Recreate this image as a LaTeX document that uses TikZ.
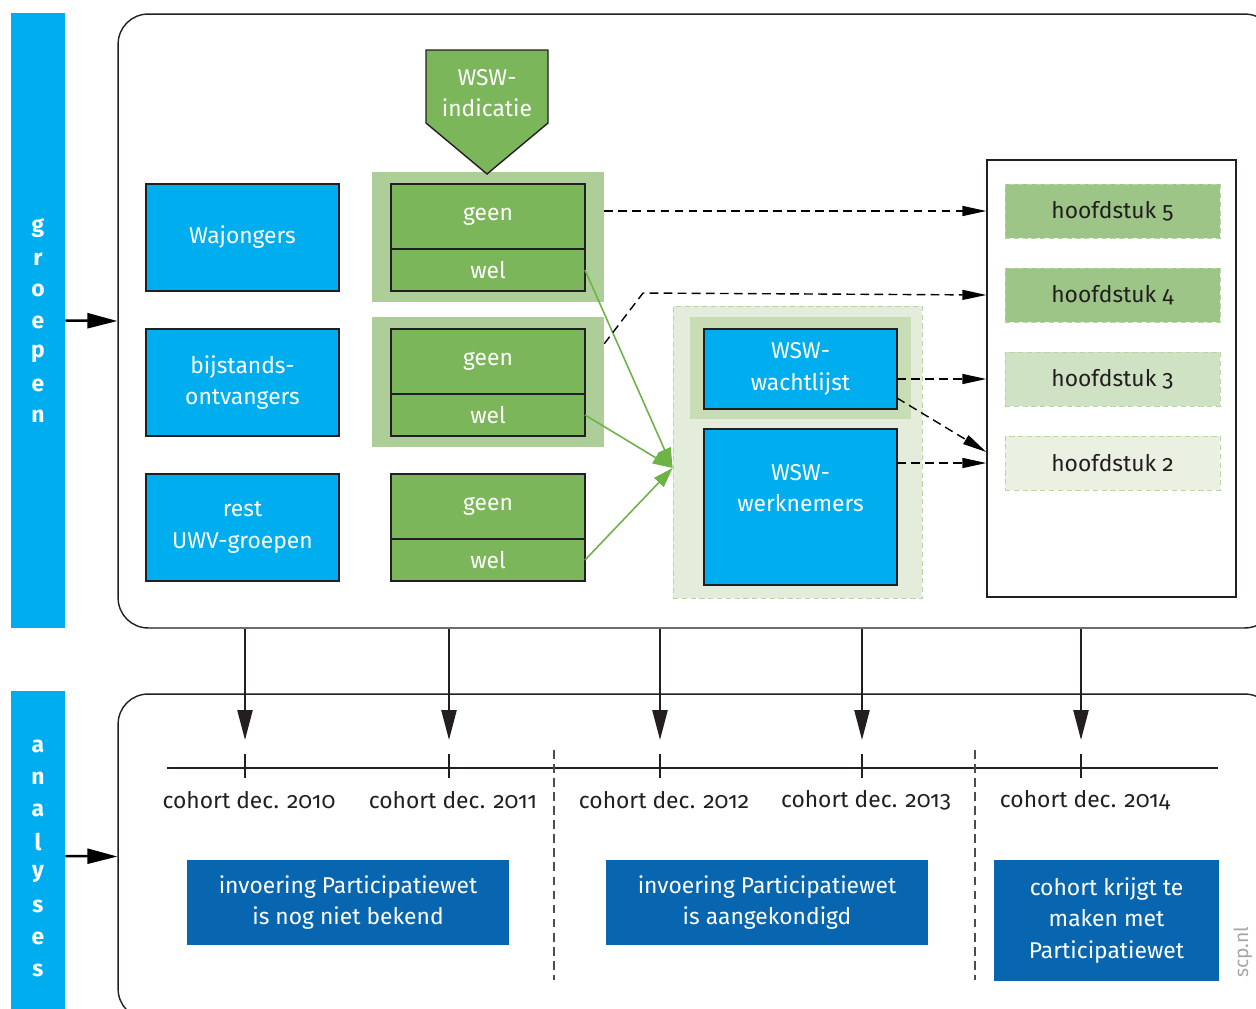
\documentclass[tikz,border=0pt]{standalone}
\usepackage{fontspec}
\setmainfont{Fira Sans}[Numbers=OldStyle]
\usepackage{tikz}
\usetikzlibrary{positioning,arrows.meta,calc}

\definecolor{scpcyan}{HTML}{00AEEF}
\definecolor{scpblue}{HTML}{0866B0}
\definecolor{scpgreen}{HTML}{7CB65A}
\definecolor{backgreen}{HTML}{ADCE98}
\definecolor{areagreen}{HTML}{E4EDDB}
\definecolor{waitgreen}{HTML}{C8DCB6}
\definecolor{dashgreen}{HTML}{B6D7A2}
\definecolor{chfive}{HTML}{9DC588}
\definecolor{chthree}{HTML}{CFE2C3}
\definecolor{chtwo}{HTML}{EAF1E3}
\definecolor{arrowgreen}{HTML}{6DB345}
\definecolor{inkdark}{HTML}{231F20}

\tikzset{
  txt/.style={font=\fontsize{13}{18}\selectfont, align=center},
  bluebox/.style={txt, draw=inkdark, line width=0.8pt, fill=scpcyan, text=white,
    inner sep=0pt, outer sep=0pt, minimum width=3.86cm},
  geenbox/.style={txt, draw=inkdark, line width=0.8pt, fill=scpgreen, text=white,
    inner sep=0pt, outer sep=0pt, minimum width=3.88cm, minimum height=1.3cm},
  welbox/.style={geenbox, minimum height=0.84cm},
  backbox/.style={fill=backgreen, inner sep=0pt, minimum width=4.64cm, minimum height=2.6cm},
  chapbox/.style={txt, text=inkdark, draw=dashgreen, dashed, dash pattern=on 3pt off 2pt,
    inner sep=0pt, minimum width=4.3cm, minimum height=1.08cm},
  sidebar/.style={fill=scpcyan, inner sep=0pt, minimum width=1.08cm},
  vlet/.style={font=\fontsize{13}{13}\selectfont\bfseries, text=white},
  roundbox/.style={draw=inkdark, line width=0.8pt, rounded corners=0.6cm, inner sep=0pt},
  darkbox/.style={txt, fill=scpblue, text=white, inner sep=0pt},
  bigarrow/.style={line width=1.4pt, -{Triangle[length=0.6cm, width=0.3cm]}},
  dasharrow/.style={line width=0.8pt, dash pattern=on 5pt off 3pt,
    -{Triangle[length=0.48cm, width=0.2cm]}},
  greenarrow/.style={arrowgreen, line width=0.9pt, -{Triangle[length=0.4cm, width=0.26cm]}},
}

\begin{document}
\begin{tikzpicture}[x=0.02cm, y=-0.02cm]

    \clip (0,0) rectangle (1256,1008);
          % page frame in pixel units

    % side bars
    \node[sidebar, minimum height=12.3cm] (groep) at (38,320.5) {};
    \node[sidebar, minimum height=6.6cm] (anal) at (38,856) {};
    \foreach \l [count=\i] in {g,r,o,e,p,e,n}{%
      \node[vlet] at (38,196+31.5*\i) {\l};
    }
    \foreach \l [count=\i] in {a,n,a,l,y,s,e,s}{%
      \node[vlet] at (38,714+32*\i) {\l};
    }

    % the two frames
    \node[roundbox, minimum width=23.14cm, minimum height=12.28cm] (upper) at (696.5,321) {};
    \node[roundbox, minimum width=23.14cm, minimum height=6.5cm] (lower) at (696.5,856.5) {};
    \draw[bigarrow] (groep.east) -- (upper.west);
    \draw[bigarrow] (anal.east) -- (lower.west);

    % groups
    \node[bluebox, minimum height=2.14cm] (wajong) at (242.5,237.5) {Wajongers};
    \node[bluebox, minimum height=2.14cm] (bijst) at (242.5,382.5) {bijstands-\\ontvangers};
    \node[bluebox, minimum height=2.14cm] (rest) at (242.5,527.5) {rest\\UWV-groepen};

    \node[backbox] (back1) at (488,237) {};
    \node[backbox] (back2) at (488,382) {};
    \node[geenbox] (geen1) at (488,216.5) {geen};
    \node[welbox, below=0pt of geen1] (wel1) {wel};
    \node[geenbox] (geen2) at (488,361.5) {geen};
    \node[welbox, below=0pt of geen2] (wel2) {wel};
    \node[geenbox] (geen3) at (488,506.5) {geen};
    \node[welbox, below=0pt of geen3] (wel3) {wel};

    % WSW-indicatie
    \draw[fill=scpgreen, draw=inkdark, line width=0.8pt]
      (426,50) -- (548,50) -- (548,123) -- (487,174) -- (426,123) -- cycle;
    \node[txt, text=white] (indic) at (487,93) {WSW-\\indicatie};

    % WSW area
    \node[fill=areagreen, draw=dashgreen, dash pattern=on 3pt off 2pt, inner sep=0pt,
      minimum width=4.98cm, minimum height=5.84cm] (area) at (797.5,452) {};
    \node[fill=waitgreen, inner sep=0pt, minimum width=4.42cm, minimum height=2.04cm]
      (waitback) at (800.5,368) {};
    \node[bluebox, minimum height=1.6cm] (wacht) at (800.5,369) {WSW-\\wachtlijst};
    \node[bluebox, minimum height=3.12cm,
      label={[txt, text=white, anchor=north, yshift=-0.58cm]north:{WSW-\\werknemers}}]
      (werkn) at (800.5,507) {};

    % chapters
    \node[draw=inkdark, line width=0.8pt, inner sep=0pt, minimum width=4.98cm,
      minimum height=8.74cm] (rbox) at (1111.5,378.5) {};
    \node[chapbox, fill=chfive] (h5) at (1112.5,211) {hoofdstuk 5};
    \node[chapbox, fill=chfive] (h4) at (1112.5,295) {hoofdstuk 4};
    \node[chapbox, fill=chthree] (h3) at (1112.5,379) {hoofdstuk 3};
    \node[chapbox, fill=chtwo] (h2) at (1112.5,463) {hoofdstuk 2};

    % flows
    \coordinate (gin) at ($(area.west)+(0,16)$);
    \draw[greenarrow] (wel1.east) -- (gin);
    \draw[greenarrow] (wel2.east) -- (gin);
    \draw[greenarrow] (wel3.east) -- (gin);

    \draw[dasharrow] (back1.east |- h5) -- (h5 -| rbox.west);
    \draw[dasharrow] ($(back2.north east)+(0,27)$) -- (643,293) -- (h4 -| rbox.west);
    \draw[dasharrow] (wacht.east |- h3) -- (h3 -| rbox.west);
    \draw[dasharrow] ($(wacht.south east)+(0,-11)$) -- ($(h2 -| rbox.west)+(0,-11)$);
    \draw[dasharrow] (werkn.east |- h2) -- (h2 -| rbox.west);

    % time line
    \draw[line width=0.8pt, inkdark] (167,768) -- (1218,768);
    \foreach \x/\yr [count=\i] in {245/2010,449/2011,660/2012,862/2013,1081/2014}{%
      \coordinate (c\i) at (\x,768);
      \draw[line width=0.8pt, inkdark] (\x,754) -- (\x,778);
      \node[txt, text=inkdark] at (\x+4,800) {cohort dec. \yr};
      \draw[bigarrow, inkdark] (upper.south -| c\i) -- ($(c\i)+(0,-28)$);
    }
    \draw[inkdark!80, line width=0.8pt, dash pattern=on 5pt off 3pt] (554,750) -- (554,980);
    \draw[inkdark!80, line width=0.8pt, dash pattern=on 5pt off 3pt] (975,750) -- (975,980);

    \node[darkbox, minimum width=6.44cm, minimum height=1.7cm] (fase1) at (348,902.5)
      {invoering Participatiewet\\is nog niet bekend};
    \node[darkbox, minimum width=6.44cm, minimum height=1.7cm] (fase2) at (767,902.5)
      {invoering Participatiewet\\is aangekondigd};
    \node[darkbox, minimum width=4.5cm, minimum height=2.42cm] (fase3) at (1106.5,920.5)
      {cohort krijgt te\\maken met\\Participatiewet};

    \node[rotate=90, text=black!35, font=\fontsize{11}{11}\selectfont] (scp) at (1243,952) {scp.nl};
\end{tikzpicture}
\end{document}
